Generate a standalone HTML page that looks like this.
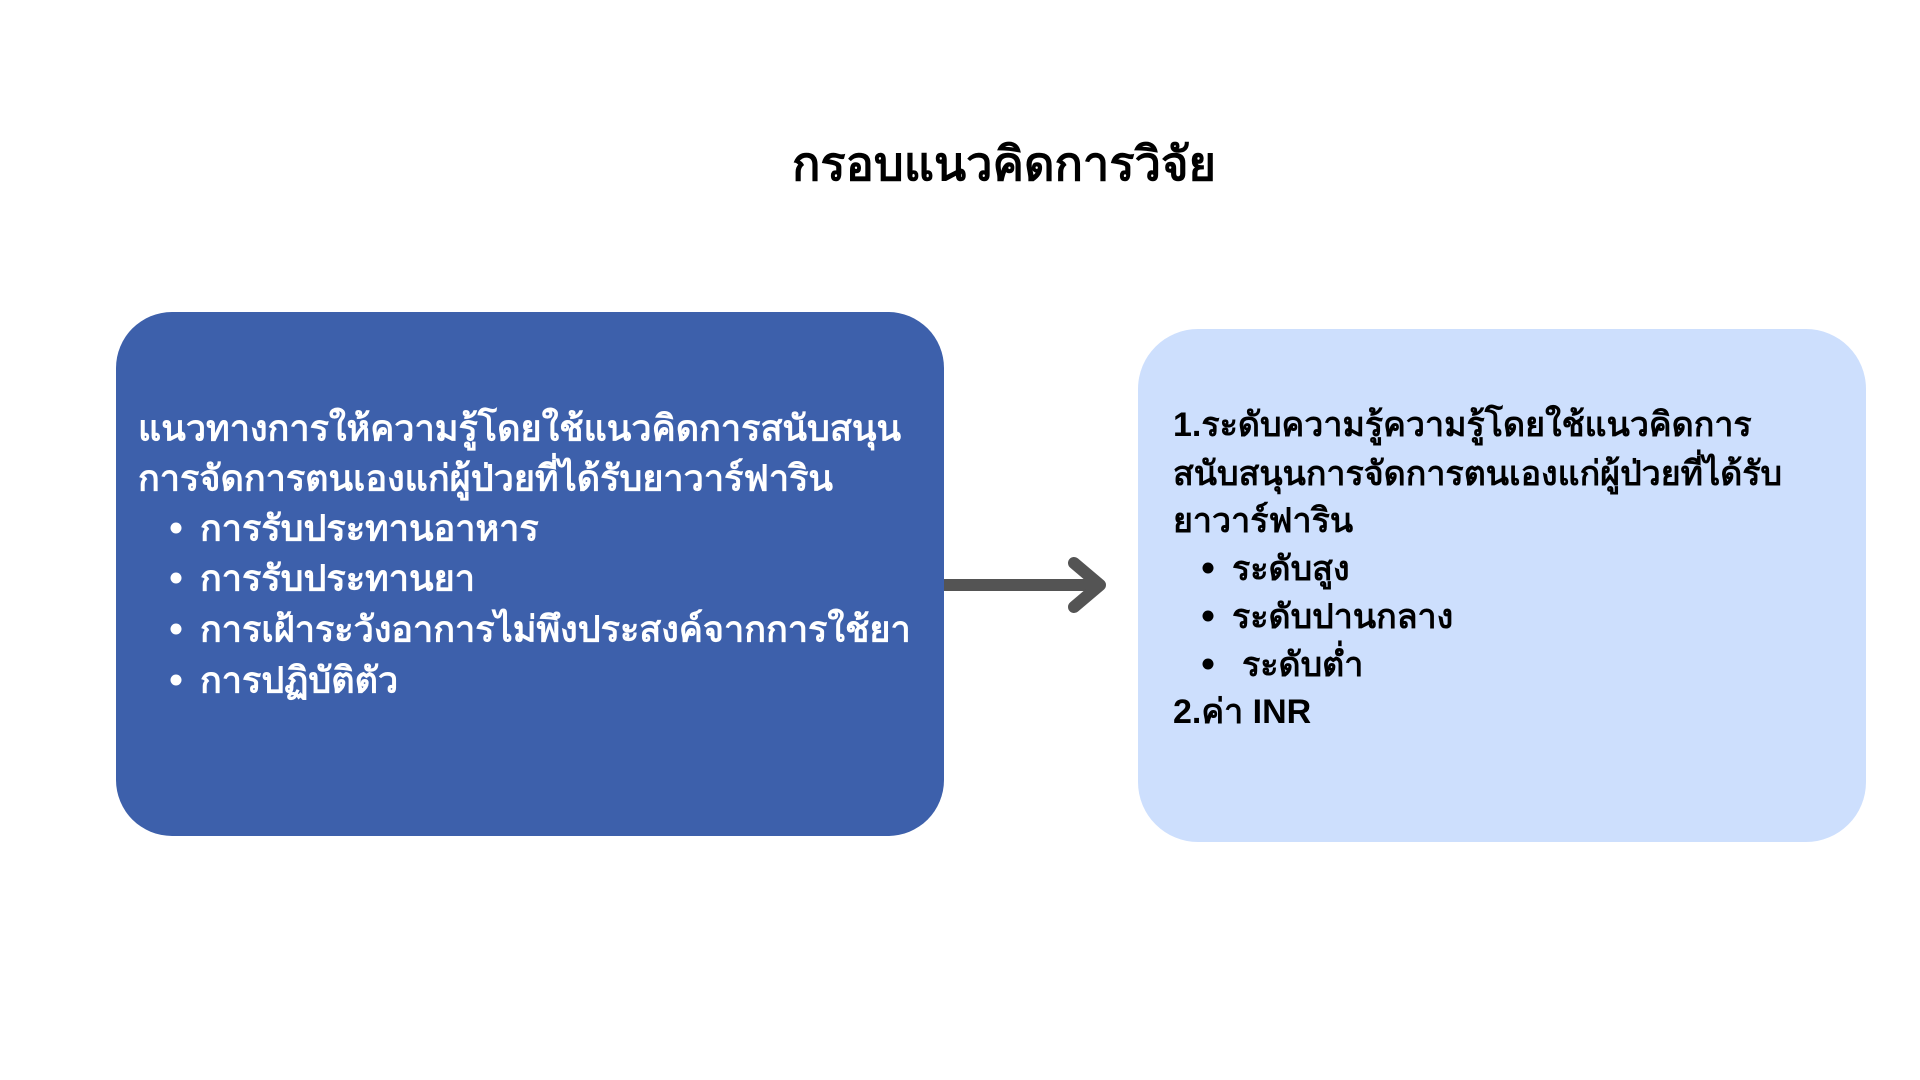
<!DOCTYPE html>
<html><head><meta charset="utf-8"><style>
body{margin:0;width:1920px;height:1080px;background:#fff;position:relative;overflow:hidden;font-family:"Liberation Sans","DejaVu Sans",sans-serif;font-weight:bold}
.t{position:absolute;white-space:nowrap;line-height:1}
.box{position:absolute}
.ln{position:absolute;white-space:nowrap;transform:translateY(-50%)}
.dot{position:absolute;width:11px;height:11px;border-radius:50%;transform:translate(-50%,-50%)}
</style></head><body>
<div class="t" style="left:0;width:2008px;text-align:center;top:140px;font-size:47px;color:#000">กรอบแนวคิดการวิจัย</div>

<div class="box" style="left:116px;top:312px;width:828px;height:524px;background:#3d60ab;border-radius:56px"></div>
<div class="box" style="left:1138px;top:329px;width:728px;height:513px;background:#cddffd;border-radius:60px"></div>

<svg style="position:absolute;left:0;top:0" width="1920" height="1080">
<line x1="944" y1="585" x2="1100" y2="585" stroke="#545454" stroke-width="12"/>
<polyline points="1074,563 1100,585 1074,607" fill="none" stroke="#545454" stroke-width="12" stroke-linecap="round" stroke-linejoin="round"/>
</svg>

<div style="color:#fff;font-size:36px">
<div class="ln" style="left:138px;top:428px">แนวทางการให้ความรู้โดยใช้แนวคิดการสนับสนุน</div>
<div class="ln" style="left:138px;top:478px">การจัดการตนเองแก่ผู้ป่วยที่ได้รับยาวาร์ฟาริน</div>
<div class="dot" style="left:176px;top:528px;background:#fff"></div><div class="ln" style="left:200px;top:528px">การรับประทานอาหาร</div>
<div class="dot" style="left:176px;top:578px;background:#fff"></div><div class="ln" style="left:200px;top:578px">การรับประทานยา</div>
<div class="dot" style="left:176px;top:629px;background:#fff"></div><div class="ln" style="left:200px;top:629px">การเฝ้าระวังอาการไม่พึงประสงค์จากการใช้ยา</div>
<div class="dot" style="left:176px;top:680px;background:#fff"></div><div class="ln" style="left:200px;top:680px">การปฏิบัติตัว</div>
</div>

<div style="color:#000;font-size:34px">
<div class="ln" style="left:1173px;top:424px">1.ระดับความรู้ความรู้โดยใช้แนวคิดการ</div>
<div class="ln" style="left:1173px;top:473px">สนับสนุนการจัดการตนเองแก่ผู้ป่วยที่ได้รับ</div>
<div class="ln" style="left:1173px;top:520px">ยาวาร์ฟาริน</div>
<div class="dot" style="left:1208px;top:568px;background:#000"></div><div class="ln" style="left:1232px;top:568px">ระดับสูง</div>
<div class="dot" style="left:1208px;top:616px;background:#000"></div><div class="ln" style="left:1232px;top:616px">ระดับปานกลาง</div>
<div class="dot" style="left:1208px;top:664px;background:#000"></div><div class="ln" style="left:1242px;top:664px">ระดับต่ำ</div>
<div class="ln" style="left:1173px;top:711px">2.ค่า INR</div>
</div>
</body></html>
